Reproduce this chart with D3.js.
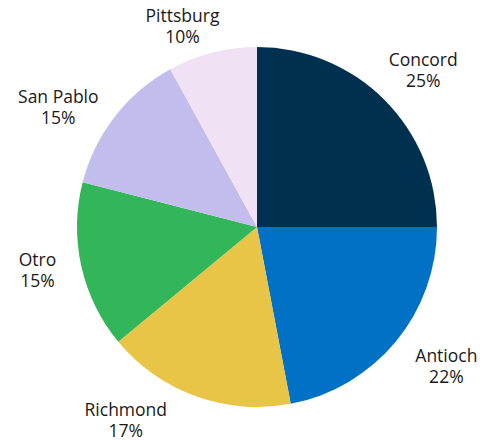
<!DOCTYPE html>
<html>
<head>
<meta charset="utf-8">
<script src="https://cdn.jsdelivr.net/npm/d3@7"></script>
<style>
  html, body { margin: 0; padding: 0; background: #fff; }
  svg { display: block; }
  text { font-family: "Open Sans", sans-serif; font-size: 17.5px; fill: #1a1a1a; }
</style>
</head>
<body>
<div id="chart"></div>
<script>
var categories = ['Concord', 'Antioch', 'Richmond', 'Otro', 'San Pablo', 'Pittsburg'];
var values = [25, 22, 17, 15, 13, 8];
var pctLabels = ['25%', '22%', '17%', '15%', '15%', '10%'];
var colors = ['#00304f', '#0071c5', '#e8c547', '#33b55a', '#c3bdee', '#f0e2f4'];

// label nudges (degrees off the slice middle, and distance from centre)
var labelShift = [2.9, -2.0, 13.5, 0, -8, -6.6];
var labelDist = [224, 239, 239, 225, 229, 208];

var width = 484, height = 441;
var cx = 257, cy = 227, radius = 180;

var svg = d3.select('#chart')
  .append('svg')
  .attr('width', width)
  .attr('height', height);

var g = svg.append('g')
  .attr('transform', 'translate(' + cx + ',' + cy + ')');

var pie = d3.pie().sort(null).value(function (d) { return d; });
var arcs = pie(values);

var arc = d3.arc().innerRadius(0).outerRadius(radius);

g.selectAll('path')
  .data(arcs)
  .enter()
  .append('path')
  .attr('d', arc)
  .attr('fill', function (d, i) { return colors[i]; });

var labels = g.selectAll('g.label')
  .data(arcs)
  .enter()
  .append('g')
  .attr('class', 'label')
  .attr('transform', function (d, i) {
    var a = (d.startAngle + d.endAngle) / 2 + labelShift[i] * Math.PI / 180;
    var r = labelDist[i];
    return 'translate(' + (Math.sin(a) * r) + ',' + (-Math.cos(a) * r) + ')';
  });

labels.append('text')
  .attr('text-anchor', 'middle')
  .attr('y', -10.5)
  .text(function (d, i) { return categories[i]; });

labels.append('text')
  .attr('text-anchor', 'middle')
  .attr('y', 10.5)
  .text(function (d, i) { return pctLabels[i]; });
</script>
</body>
</html>
